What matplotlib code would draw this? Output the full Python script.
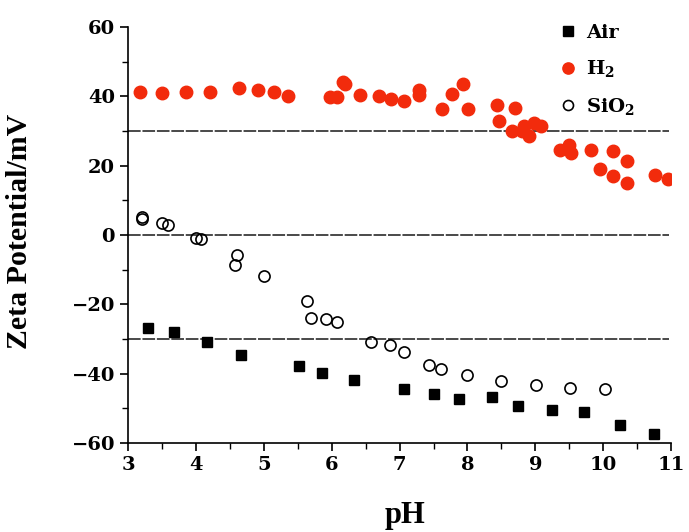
import matplotlib
matplotlib.use("Agg")
import matplotlib.pyplot as plt
from matplotlib.ticker import MultipleLocator

plt.rcParams['font.family'] = ['DejaVu Serif']
plt.rcParams['font.weight'] = 'bold'
plt.rcParams['mathtext.fontset'] = 'dejavuserif'
plt.rcParams['mathtext.default'] = 'bf'

# Zeta potential vs pH for three surfaces
air_ph = [3.29, 3.68, 4.16, 4.67, 5.52, 5.86, 6.33, 7.07, 7.51, 7.88, 8.36,
          8.75, 9.25, 9.72, 10.25, 10.75]
air_zeta = [-26.9, -28.0, -30.9, -34.5, -37.7, -39.9, -41.9, -44.4, -45.8,
            -47.2, -46.7, -49.4, -50.4, -51.0, -54.9, -57.4]

h2_ph = [3.18, 3.50, 3.85, 4.20, 4.64, 4.91, 5.15, 5.36, 5.97, 6.08, 6.16,
         6.19, 6.41, 6.69, 6.87, 7.07, 7.28, 7.29, 7.62, 7.77, 7.94, 8.01,
         8.43, 8.47, 8.70, 8.66, 8.83, 8.80, 8.90, 8.98, 9.09, 9.36, 9.49,
         9.52, 9.82, 9.95, 10.14, 10.15, 10.35, 10.35, 10.76, 10.95]
h2_zeta = [41.2, 40.9, 41.3, 41.2, 42.5, 42.0, 41.2, 40.1, 39.9, 39.9, 44.3,
           43.5, 40.4, 40.1, 39.2, 38.6, 41.9, 40.4, 36.5, 40.6, 43.5, 36.3,
           37.4, 33.0, 36.7, 30.1, 31.6, 30.1, 28.6, 32.4, 31.4, 24.7, 26.0,
           23.6, 24.7, 19.2, 24.4, 17.1, 21.4, 15.0, 17.4, 16.1]

sio2_ph = [3.21, 3.21, 3.50, 3.58, 4.00, 4.07, 4.60, 4.57, 5.00, 5.64, 5.70,
           5.91, 6.08, 6.58, 6.86, 7.06, 7.43, 7.61, 8.00, 8.50, 9.01, 9.51,
           10.02]
sio2_zeta = [4.7, 5.2, 3.4, 2.9, -0.7, -1.2, -5.6, -8.5, -11.9, -19.0, -23.9,
             -24.1, -25.1, -30.7, -31.8, -33.6, -37.5, -38.5, -40.2, -42.1,
             -43.2, -44.2, -44.5]

ref_levels = [30, 0, -30]
x_ticks = [3, 4, 5, 6, 7, 8, 9, 10, 11]
y_ticks = [-60, -40, -20, 0, 20, 40, 60]

fig = plt.figure(figsize=(6.89, 5.32), dpi=100)
ax = fig.add_axes([0.186, 0.167, 0.788, 0.782])

for lvl in ref_levels:
    ax.plot([3, 10.97], [lvl, lvl], color='#3a3a3a', lw=1.3,
            linestyle=(0, (7, 1)), zorder=1)

ax.plot(air_ph, air_zeta, 's', color='black', ms=7.5, label='Air', zorder=3)
ax.plot(h2_ph, h2_zeta, 'o', color='#f22b0c', ms=9, mec='#f22b0c',
        label='H$_2$', zorder=3)
ax.plot(sio2_ph, sio2_zeta, 'o', mfc='none', mec='black', mew=1.2, ms=8,
        label='SiO$_2$', zorder=3)

ax.set_xlim(3, 11)
ax.set_ylim(-60, 60)
ax.set_xticks(x_ticks)
ax.set_yticks(y_ticks)
ax.xaxis.set_minor_locator(MultipleLocator(0.5))
ax.yaxis.set_minor_locator(MultipleLocator(10))
ax.tick_params(which='major', direction='out', length=6, width=1.2,
               labelsize=14)
ax.tick_params(which='minor', direction='out', length=4, width=1.0)
for lab in ax.get_xticklabels() + ax.get_yticklabels():
    lab.set_fontweight('bold')

for side in ['top', 'right']:
    ax.spines[side].set_visible(False)
for side in ['left', 'bottom']:
    ax.spines[side].set_linewidth(1.2)

ax.set_xlabel('pH', fontsize=22, fontweight='bold',
              family=['Liberation Serif'])
ax.set_ylabel('Zeta Potential/mV', fontsize=21.5, fontweight='bold',
              family=['Liberation Serif'])
ax.xaxis.set_label_coords(0.51, -0.14)
ax.yaxis.set_label_coords(-0.175, 0.51)

leg = ax.legend(loc='upper right', bbox_to_anchor=(0.965, 1.05), frameon=False,
                fontsize=14, labelspacing=0.85, handletextpad=0.4,
                handlelength=1.0, markerscale=0.9)
for t in leg.get_texts():
    t.set_fontweight('bold')

fig.savefig('out.png', dpi=100)
